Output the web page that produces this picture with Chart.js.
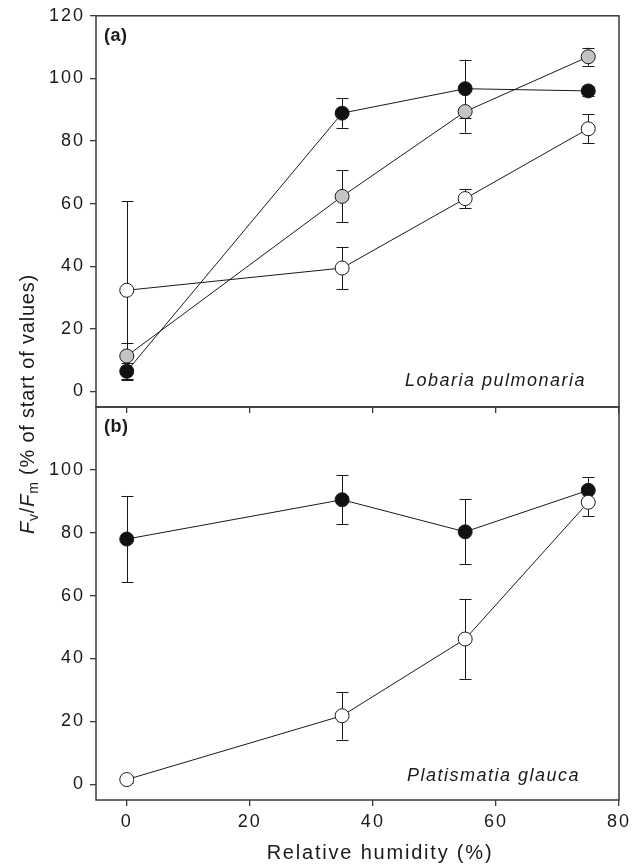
<!DOCTYPE html>
<html>
<head>
<meta charset="utf-8">
<script src="https://cdn.jsdelivr.net/npm/chart.js@4.4.1/dist/chart.umd.min.js"></script>
<style>
  body { margin: 0; background: #fff; }
  .wrap { position: relative; width: 640px; height: 865px; }
  .wrap canvas { position: absolute; left: 0; top: 0; }
</style>
</head>
<body>
<div class="wrap">
  <canvas id="panelB" width="640" height="865"></canvas>
  <canvas id="panelA" width="640" height="865"></canvas>
</div>
<script>
// --- data ---
const humidity = [0, 35, 55, 75];
const xTicks = [0, 20, 40, 60, 80];
const yTicksA = [0, 20, 40, 60, 80, 100, 120];
const yTicksB = [0, 20, 40, 60, 80, 100];

// (a) Lobaria pulmonaria
const lobBlack = [6.4, 88.9, 96.7, 96.0];
const lobBlackErr = [2.8, 4.7, 9.3, 1.5];
const lobGray = [11.3, 62.3, 89.4, 106.9];
const lobGrayErr = [4.3, 8.3, 6.7, 2.9];
const lobWhite = [32.3, 39.4, 61.6, 83.9];
const lobWhiteErr = [28.5, 6.8, 3.0, 4.6];

// (b) Platismatia glauca
const plaBlack = [78.0, 90.5, 80.3, 93.5];
const plaBlackErr = [13.7, 7.8, 10.3, 4.1];
const plaWhite = [1.5, 21.8, 46.2, 89.7];
const plaWhiteErr = [1.0, 7.6, 12.8, 4.5];

const FONT = "'Liberation Sans', Arial, sans-serif";
const INK = '#1a1a1a';
const AXIS = '#3a3a3a';

function series(values, errors, fill, order) {
    return {
        data: humidity.map((x, i) => ({ x: x, y: values[i] })),
        errors: errors,
        borderColor: INK,
        borderWidth: 1,
        pointRadius: 7,
        pointHoverRadius: 7,
        pointBackgroundColor: fill,
        pointBorderColor: INK,
        pointBorderWidth: 1,
        fill: false,
        tension: 0,
        order: order
    };
}

// wider text spacing like the original figure (used by tick labels)
const spacing = {
    id: 'spacing',
    beforeDraw(chart) { chart.ctx.letterSpacing = '2px'; }
};

// error bars, drawn under the markers
const errorBars = {
    id: 'errorBars',
    beforeDatasetsDraw(chart) {
        const ctx = chart.ctx;
        const xs = chart.scales.x, ys = chart.scales.y;
        ctx.save();
        ctx.strokeStyle = INK;
        ctx.lineWidth = 1;
        chart.data.datasets.forEach(ds => {
            ds.data.forEach((p, i) => {
                const e = ds.errors[i];
                const x = Math.round(xs.getPixelForValue(p.x)) + 0.5;
                const y1 = ys.getPixelForValue(p.y + e);
                const y2 = ys.getPixelForValue(p.y - e);
                ctx.beginPath();
                ctx.moveTo(x, y1); ctx.lineTo(x, y2);
                ctx.moveTo(x - 6, Math.round(y1) + 0.5); ctx.lineTo(x + 6, Math.round(y1) + 0.5);
                ctx.moveTo(x - 6, Math.round(y2) + 0.5); ctx.lineTo(x + 6, Math.round(y2) + 0.5);
                ctx.stroke();
            });
        });
        ctx.restore();
    }
};

// frame and panel texts
const frame = {
    id: 'frame',
    afterDraw(chart, args, opts) {
        const ctx = chart.ctx;
        const a = chart.chartArea;
        ctx.save();
        ctx.strokeStyle = AXIS;
        ctx.lineWidth = 1.5;
        ctx.strokeRect(a.left, a.top, a.right - a.left, a.bottom - a.top);

        ctx.fillStyle = INK;
        ctx.textBaseline = 'middle';
        ctx.textAlign = 'left';
        ctx.font = 'bold 18px ' + FONT;
        ctx.letterSpacing = '0.5px';
        ctx.fillText(opts.tag, a.left + 8, a.top + 20);

        ctx.textBaseline = 'alphabetic';
        ctx.textAlign = 'right';
        ctx.font = 'italic 18px ' + FONT;
        ctx.letterSpacing = '1.5px';
        ctx.fillText(opts.species, a.right - opts.speciesRight, a.bottom - opts.speciesBottom);
        ctx.restore();
    }
};

// shared axis titles (drawn once, on the lower panel)
const titles = {
    id: 'titles',
    afterDraw(chart) {
        const ctx = chart.ctx;
        ctx.save();
        ctx.fillStyle = INK;
        ctx.textBaseline = 'alphabetic';
        ctx.textAlign = 'center';
        ctx.font = '20px ' + FONT;
        ctx.letterSpacing = '1.8px';
        ctx.fillText('Relative humidity (%)', 380, 859);

        ctx.letterSpacing = '0.8px';
        const parts = [
            { t: 'F', f: 'italic 20px ', dy: 0 },
            { t: 'v', f: '14px ', dy: 4 },
            { t: '/', f: '20px ', dy: 0 },
            { t: 'F', f: 'italic 20px ', dy: 0 },
            { t: 'm', f: '14px ', dy: 4 },
            { t: ' (% of start of values)', f: '20px ', dy: 0 }
        ];
        let total = 0;
        parts.forEach(p => { ctx.font = p.f + FONT; p.w = ctx.measureText(p.t).width; total += p.w; });
        ctx.translate(34, 404);
        ctx.rotate(-Math.PI / 2);
        ctx.textAlign = 'left';
        let x = -total / 2;
        parts.forEach(p => {
            ctx.font = p.f + FONT;
            ctx.fillText(p.t, x, p.dy);
            x += p.w;
        });
        ctx.restore();
    }
};

function panelOptions(yTicks, top, bottom, showX, frameOpts) {
    return {
        responsive: false,
        animation: false,
        devicePixelRatio: 1,
        events: [],
        layout: { padding: { left: 0, right: 21, top: top, bottom: 865 - bottom - (showX ? 40 : 10) } },
        plugins: {
            legend: { display: false },
            tooltip: { enabled: false },
            frame: frameOpts
        },
        scales: {
            x: {
                type: 'linear',
                min: -5,
                max: 80,
                afterBuildTicks: s => { s.ticks = xTicks.map(v => ({ value: v })); },
                afterFit: s => { s.height = showX ? 40 : 10; },
                border: { display: false },
                grid: { drawOnChartArea: false, drawTicks: true, tickLength: 6, color: AXIS, lineWidth: 1.3 },
                ticks: { display: showX, color: INK, padding: 5, font: { family: FONT, size: 18 } }
            },
            y: {
                min: -5,
                max: 120,
                afterBuildTicks: s => { s.ticks = yTicks.map(v => ({ value: v })); },
                afterFit: s => { s.width = 96; },
                border: { display: false },
                grid: { drawOnChartArea: false, drawTicks: true, tickLength: 6, color: AXIS, lineWidth: 1.3 },
                ticks: { color: INK, padding: 5, font: { family: FONT, size: 18 } }
            }
        }
    };
}

// --- panel (a) ---
new Chart(document.getElementById('panelA'), {
    type: 'line',
    data: {
        datasets: [
            series(lobBlack, lobBlackErr, '#111111', 0),
            series(lobGray, lobGrayErr, '#c4c4c4', 1),
            series(lobWhite, lobWhiteErr, '#ffffff', 2)
        ]
    },
    options: panelOptions(yTicksA, 15, 407, false,
        { tag: '(a)', species: 'Lobaria pulmonaria', speciesRight: 33, speciesBottom: 21 }),
    plugins: [spacing, errorBars, frame]
});

// --- panel (b) ---
new Chart(document.getElementById('panelB'), {
    type: 'line',
    data: {
        datasets: [
            series(plaWhite, plaWhiteErr, '#ffffff', 0),
            series(plaBlack, plaBlackErr, '#111111', 1)
        ]
    },
    options: panelOptions(yTicksB, 407, 800, true,
        { tag: '(b)', species: 'Platismatia glauca', speciesRight: 39, speciesBottom: 19 }),
    plugins: [spacing, errorBars, frame, titles]
});
</script>
</body>
</html>
